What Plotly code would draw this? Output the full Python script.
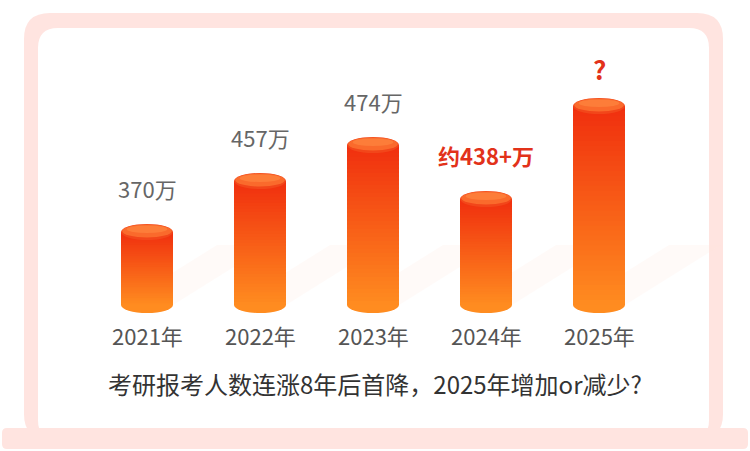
import plotly.graph_objects as go

# data
years = ["2021年", "2022年", "2023年", "2024年", "2025年"]
value_labels = ["370万", "457万", "474万", "约438+万", "?"]
# bar heights as drawn (the picture is not to scale), arbitrary units
bar_heights = [73, 124, 160, 106, 199]
caption = "考研报考人数连涨8年后首降，2025年增加or减少?"

W, H = 750, 451
PINK = "#FFE4E0"
TOP_RGB = (240, 46, 14)
BOT_RGB = (255, 140, 32)
HALF_W = 0.23   # half bar width, x units
CAP_RY = 8      # cap ellipse half height, y units
FONT = "Noto Sans CJK SC"


def px(x):
    return x / W


def py(y):
    return 1 - y / H


def rounded_rect(x0, y0, x1, y1, r):
    # pixel box -> paper path with rounded corners
    a, b, c, d = px(x0), py(y0), px(x1), py(y1)
    rx, ry = r / W, r / H
    return (f"M {a + rx},{b} L {c - rx},{b} Q {c},{b} {c},{b - ry} "
            f"L {c},{d + ry} Q {c},{d} {c - rx},{d} L {a + rx},{d} "
            f"Q {a},{d} {a},{d + ry} L {a},{b - ry} Q {a},{b} {a + rx},{b} Z")


def mix(t):
    r = [round(TOP_RGB[k] + (BOT_RGB[k] - TOP_RGB[k]) * t) for k in range(3)]
    return f"rgb({r[0]},{r[1]},{r[2]})"


shapes = []
# laptop-like frame
shapes.append(dict(type="path", xref="paper", yref="paper", layer="below",
                   path=rounded_rect(24, 13, 723, 440, 26), fillcolor=PINK, line_width=0))
shapes.append(dict(type="path", xref="paper", yref="paper", layer="below",
                   path=rounded_rect(38, 28, 709, 440, 20), fillcolor="white", line_width=0))
shapes.append(dict(type="path", xref="paper", yref="paper",
                   path=rounded_rect(2, 428, 748, 449, 5), fillcolor=PINK, line_width=0))

n_slices = 40
for i, h in enumerate(bar_heights):
    xl, xr = i - HALF_W, i + HALF_W
    # faint shadow
    shapes.append(dict(type="path", xref="x", yref="y", layer="below",
                       path=f"M {xl},0 L {xr},0 L {xr + 0.85},60 L {xl + 0.85},60 Z",
                       fillcolor="rgba(253,228,220,0.2)", line_width=0))
    # bottom ellipse
    shapes.append(dict(type="circle", xref="x", yref="y", x0=xl, x1=xr,
                       y0=-CAP_RY, y1=CAP_RY, fillcolor=mix(1), line_width=0))
    # body with vertical gradient
    for k in range(n_slices):
        y0 = h * k / n_slices
        y1 = h * (k + 1) / n_slices + 2
        shapes.append(dict(type="rect", xref="x", yref="y", x0=xl, x1=xr,
                           y0=y0, y1=min(y1, h), fillcolor=mix(1 - (k + 0.5) / n_slices),
                           line_width=0))
    # top cap
    shapes.append(dict(type="circle", xref="x", yref="y", x0=xl, x1=xr,
                       y0=h - CAP_RY, y1=h + CAP_RY, fillcolor="#F2461A", line_width=0))
    shapes.append(dict(type="circle", xref="x", yref="y", x0=xl + 0.01, x1=xr - 0.01,
                       y0=h - CAP_RY + 2.5, y1=h + CAP_RY - 0.5, fillcolor="#FA6A2C",
                       line_width=0))
    shapes.append(dict(type="circle", xref="x", yref="y", x0=xl + 0.05, x1=xr - 0.05,
                       y0=h - 1, y1=h + CAP_RY - 1.5, fillcolor="rgba(255,140,70,0.55)",
                       line_width=0))

annotations = []
for i, (h, lab, yr) in enumerate(zip(bar_heights, value_labels, years)):
    if i < 3:
        font = dict(family=FONT, size=22, color="#666666")
        shift = 44
    elif i == 3:
        font = dict(family=FONT, size=22, color="#E2321A")
        lab = "<b>" + lab + "</b>"
        shift = 44
    else:
        font = dict(family=FONT, size=26, color="#E2321A")
        lab = "<b>" + lab + "</b>"
        shift = 38
    annotations.append(dict(x=i, y=h, xref="x", yref="y", text=lab, showarrow=False,
                            yshift=shift, font=font))
    annotations.append(dict(x=i, y=-30, xref="x", yref="y", text=yr, showarrow=False,
                            font=dict(family=FONT, size=22, color="#555555")))

annotations.append(dict(x=0.5, y=-78, xref="paper", yref="y", text=caption, showarrow=False,
                        font=dict(family=FONT, size=24, color="#333333")))

fig = go.Figure()
fig.add_trace(go.Scatter(x=[0], y=[0], mode="markers", marker=dict(opacity=0),
                         hoverinfo="skip", showlegend=False))
fig.update_layout(
    width=W, height=H,
    margin=dict(l=0, r=0, t=0, b=0),
    paper_bgcolor="white", plot_bgcolor="rgba(0,0,0,0)",
    xaxis=dict(range=[-147 / 113, (W - 147) / 113], visible=False, fixedrange=True),
    yaxis=dict(range=[305 - H, 305], visible=False, fixedrange=True),
    shapes=shapes, annotations=annotations, showlegend=False,
)
# drop the browser's default 8px body margin so the figure sits at 0,0
fig.write_html("out.html", config={"displayModeBar": False},
               post_script="document.body.style.margin='0';document.body.style.overflow='hidden';")
